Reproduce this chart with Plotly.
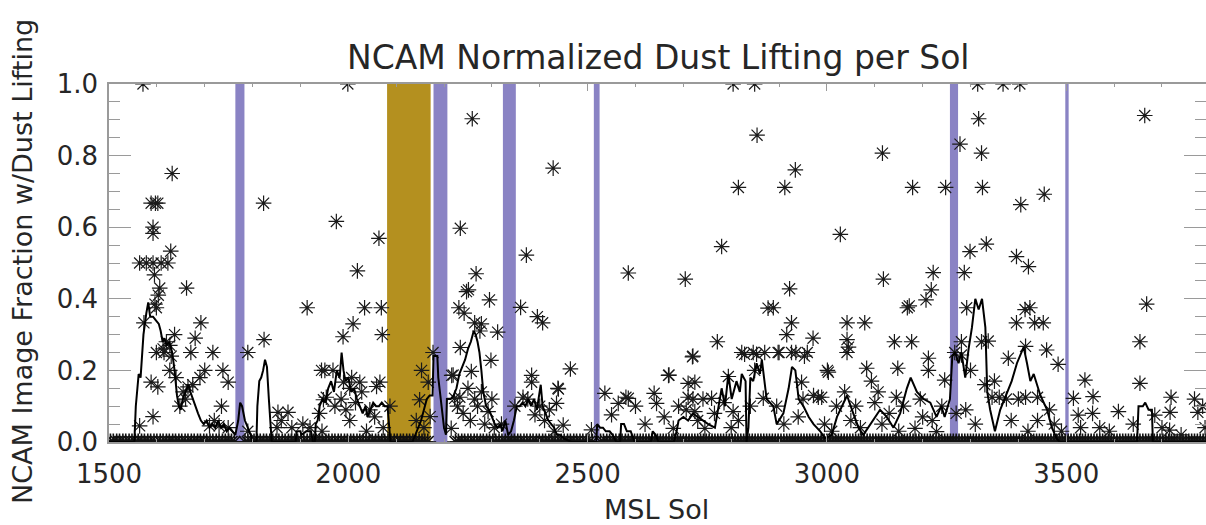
import plotly.graph_objects as go

# ---------------- data ----------------
# sols with imaging but no dust lifting (fraction = 0)
zero_sols_early = [1503, 1509, 1516, 1522, 1529, 1535, 1542, 1548, 1555, 1561, 1568, 1574, 1581, 1587, 1594,
                   1600, 1607, 1613, 1620, 1626, 1633, 1639, 1646, 1652, 1659, 1665, 1672, 1678, 1685, 1691,
                   1698, 1704, 1711, 1717, 1724, 1730, 1737, 1743, 1750, 1756, 1762, 1784, 1790, 1797, 1803,
                   1810, 1816, 1823, 1829, 1836, 1842, 1849, 1855, 1862, 1868, 1875, 1881, 1888, 1894, 1901,
                   1907, 1914, 1920, 1927, 1933, 1940, 1946, 1953, 1959, 1966, 1972, 1979, 1985, 1992, 1998,
                   2005, 2011, 2018, 2024, 2031, 2037, 2044, 2050, 2057, 2063, 2070, 2076, 2083, 2089, 2096,
                   2102, 2109, 2115, 2122, 2128, 2135, 2141, 2148, 2154, 2160, 2166, 2224, 2230, 2237, 2243,
                   2250, 2256, 2263, 2269, 2276, 2282, 2289, 2295, 2302, 2308, 2315, 2321, 2328, 2334, 2341,
                   2347, 2354, 2360, 2367, 2373, 2380, 2386, 2393, 2399, 2406, 2412, 2419, 2425, 2432, 2438,
                   2445, 2451, 2458, 2464, 2471, 2477, 2484, 2490, 2497, 2503, 2510, 2527, 2533, 2540, 2546,
                   2553, 2559, 2566, 2572, 2579, 2585, 2592, 2598]
zero_sols_late = [2604, 2610, 2616, 2622, 2628, 2634, 2640, 2646, 2652, 2658, 2664, 2670, 2676, 2682, 2688,
                  2694, 2700, 2706, 2712, 2718, 2724, 2730, 2736, 2742, 2748, 2754, 2760, 2766, 2772, 2778,
                  2784, 2790, 2796, 2802, 2808, 2814, 2820, 2826, 2832, 2838, 2844, 2850, 2856, 2862, 2868,
                  2874, 2880, 2886, 2892, 2898, 2904, 2910, 2916, 2922, 2928, 2934, 2940, 2946, 2952, 2958,
                  2964, 2970, 2976, 2982, 2988, 2994, 3000, 3006, 3012, 3018, 3024, 3030, 3036, 3042, 3048,
                  3054, 3060, 3066, 3072, 3078, 3084, 3090, 3096, 3102, 3108, 3114, 3120, 3126, 3132, 3138,
                  3144, 3150, 3156, 3162, 3168, 3174, 3180, 3186, 3192, 3198, 3204, 3210, 3216, 3222, 3228,
                  3234, 3240, 3246, 3252, 3258, 3264, 3270, 3276, 3282, 3288, 3294, 3300, 3306, 3312, 3318,
                  3324, 3330, 3336, 3342, 3348, 3354, 3360, 3366, 3372, 3378, 3384, 3390, 3396, 3402, 3408,
                  3414, 3420, 3426, 3432, 3438, 3444, 3450, 3456, 3462, 3468, 3474, 3480, 3486, 3492, 3498,
                  3504, 3510, 3516, 3522, 3528, 3534, 3540, 3546, 3552, 3558, 3564, 3570, 3576, 3582, 3588,
                  3594, 3600, 3606, 3612, 3618, 3624, 3630, 3636, 3642, 3648, 3654, 3660, 3666, 3672, 3678,
                  3684, 3690, 3696, 3702, 3708, 3714, 3720, 3726, 3732, 3738, 3744, 3750, 3756, 3762, 3768,
                  3774, 3780, 3786, 3792, 3798]

# per-sol fraction of images with dust lifting (non-zero values): (sol, fraction)
lift_obs = [
    (1571, 1.0), (1632, 0.75), (1588, 0.667), (1597, 0.667), (1602, 0.667), (1592, 0.6), (1592, 0.583),
    (1629, 0.533), (1564, 0.5), (1578, 0.5), (1592, 0.5), (1609, 0.5), (1623, 0.5), (1595, 0.467),
    (1606, 0.43), (1603, 0.41), (1662, 0.43), (1599, 0.375), (1596, 0.385), (1573, 0.333), (1692, 0.333),
    (1637, 0.3), (1680, 0.29), (1620, 0.28), (1627, 0.27), (1613, 0.26), (1599, 0.25), (1615, 0.25),
    (1630, 0.24), (1671, 0.25), (1717, 0.25), (1627, 0.2), (1700, 0.2), (1738, 0.2), (1588, 0.167),
    (1602, 0.154), (1749, 0.167), (1665, 0.154), (1648, 0.1), (1592, 0.071), (1564, 0.045), (1710, 0.045),
    (1730, 0.045), (1749, 0.04), (1790, 0.25), (1823, 0.667), (1824, 0.286), (1914, 0.375), (1853, 0.083),
    (1874, 0.083), (1851, 0.04), (1882, 0.04), (1951, 0.2), (1948, 0.118), (1640, 0.18), (1655, 0.14),
    (1675, 0.16), (1690, 0.18), (1660, 0.12), (1735, 0.1), (1720, 0.06), (1790, 0.03), (1860, 0.06),
    (1905, 0.05), (1920, 0.04), (1940, 0.08), (1945, 0.03), (1944, 0.2), (1968, 0.2), (1954, 0.125),
    (1990, 0.167), (2003, 0.06), (2007, 0.18), (2028, 0.14), (2059, 0.155), (1999, 1.0), (1975, 0.616),
    (2064, 0.569), (2019, 0.478), (2034, 0.375), (2069, 0.375), (2010, 0.33), (1989, 0.294), (2071, 0.3),
    (2024, 0.167), (2066, 0.167), (2003, 0.15), (1972, 0.1), (2087, 0.1), (2038, 0.03), (2073, 0.04),
    (2153, 0.2), (2149, 0.118), (2142, 0.06), (2177, 0.25), (2167, 0.167), (2171, 0.071), (2158, 0.04),
    (1985, 0.12), (1995, 0.09), (2015, 0.11), (2045, 0.09), (2055, 0.07),
    (2259, 0.903), (2234, 0.597), (2267, 0.47), (2251, 0.425), (2247, 0.42), (2295, 0.397), (2231, 0.375),
    (2242, 0.36), (2264, 0.333), (2278, 0.33), (2275, 0.31), (2312, 0.307), (2234, 0.264), (2298, 0.228),
    (2219, 0.187), (2257, 0.197), (2216, 0.186), (2222, 0.122), (2233, 0.125), (2250, 0.15), (2278, 0.14),
    (2264, 0.12), (2215, 0.038), (2292, 0.085), (2372, 0.522), (2360, 0.376), (2395, 0.35), (2406, 0.333),
    (2383, 0.186), (2383, 0.167), (2390, 0.076), (2439, 0.148), (2428, 0.765), (2464, 0.204), (2438, 0.15),
    (2435, 0.108), (2449, 0.047), (2228, 0.1), (2240, 0.08), (2255, 0.06), (2270, 0.1), (2285, 0.05),
    (2300, 0.12), (2305, 0.04), (2320, 0.05), (2348, 0.1), (2365, 0.125), (2375, 0.12), (2400, 0.1),
    (2410, 0.06), (2420, 0.09), (2430, 0.03),
    (2508, 0.034), (2585, 0.472), (2704, 0.455), (2780, 0.546), (2815, 0.711), (2854, 0.857), (2804, 1.0),
    (2849, 1.0), (2877, 0.374), (2771, 0.28), (2719, 0.238), (2670, 0.187), (2536, 0.136), (2585, 0.122),
    (2580, 0.125), (2639, 0.136), (2644, 0.108), (2710, 0.164), (2724, 0.167), (2720, 0.12), (2741, 0.12),
    (2710, 0.125), (2759, 0.122), (2794, 0.183), (2828, 0.245), (2853, 0.245), (2870, 0.25), (2849, 0.2),
    (2867, 0.122), (2550, 0.076), (2564, 0.108), (2706, 0.09), (2724, 0.085), (2804, 0.085), (2800, 0.04),
    (2679, 0.038), (2745, 0.038), (2600, 0.1), (2620, 0.05), (2660, 0.07), (2690, 0.1), (2730, 0.06),
    (2765, 0.08), (2785, 0.11), (2815, 0.06), (2840, 0.1),
    (2912, 0.711), (2934, 0.76), (3116, 0.807), (3179, 0.711), (3248, 0.711), (3028, 0.58), (2922, 0.428),
    (2888, 0.375), (3118, 0.455), (3222, 0.473), (3218, 0.425), (3207, 0.397), (3168, 0.375), (3172, 0.38),
    (2926, 0.333), (2916, 0.3), (3042, 0.333), (3042, 0.286), (3042, 0.25), (3045, 0.265), (3079, 0.333),
    (2971, 0.29), (3141, 0.28), (3177, 0.28), (2959, 0.25), (2898, 0.25), (2926, 0.25), (2953, 0.24),
    (2822, 0.25), (2846, 0.25), (2900, 0.25), (2935, 0.25), (3212, 0.234), (3212, 0.2), (3001, 0.2),
    (3083, 0.206), (3148, 0.206), (2947, 0.167), (3093, 0.17), (3246, 0.173), (2982, 0.125), (2989, 0.125),
    (3037, 0.14), (3107, 0.14), (3145, 0.125), (3184, 0.038), (3229, 0.029), (3003, 0.195), (2669, 0.186),
    (2720, 0.24), (2950, 0.12), (2972, 0.13), (3020, 0.1), (3060, 0.1), (3100, 0.11), (3130, 0.08),
    (3160, 0.1), (3195, 0.12), (3240, 0.1), (2895, 0.1), (2910, 0.05), (2940, 0.07), (2995, 0.05),
    (3010, 0.03), (3050, 0.06), (3070, 0.04), (3115, 0.05), (3150, 0.03), (3200, 0.07), (3220, 0.06),
    (3278, 0.832), (3317, 0.903), (3315, 1.0), (3323, 0.807), (3325, 0.711), (3299, 0.532), (3287, 0.473),
    (3292, 0.375), (3333, 0.553), (3368, 1.0), (3403, 1.0), (3454, 0.692), (3405, 0.663), (3396, 0.518),
    (3421, 0.49), (3414, 0.37), (3424, 0.375), (3396, 0.333), (3434, 0.333), (3452, 0.333), (3337, 0.282),
    (3281, 0.28), (3281, 0.243), (3323, 0.28), (3379, 0.234), (3415, 0.267), (3459, 0.257), (3483, 0.217),
    (3267, 0.25), (3300, 0.2), (3345, 0.125), (3360, 0.125), (3375, 0.12), (3400, 0.12), (3415, 0.125),
    (3440, 0.125), (3350, 0.17), (3330, 0.16), (3310, 0.05), (3290, 0.09), (3270, 0.08), (3385, 0.06),
    (3420, 0.03), (3440, 0.06), (3465, 0.09), (3475, 0.05), (3490, 0.03),
    (3539, 0.173), (3515, 0.122), (3556, 0.127), (3609, 0.085), (3664, 0.912), (3668, 0.385), (3654, 0.28),
    (3654, 0.164), (3719, 0.125), (3717, 0.083), (3716, 0.033), (3768, 0.12), (3775, 0.083), (3685, 0.075),
    (3525, 0.075), (3555, 0.08), (3570, 0.04), (3530, 0.04), (3590, 0.03), (3640, 0.05), (3700, 0.04),
    (3740, 0.02), (3790, 0.04), (3785, 0.1),
]

# running mean of the lifting fraction: (sol, fraction)
running_mean = [
    (1500, 0.0), (1553, 0.0), (1556, 0.1), (1562, 0.19), (1566, 0.18), (1572, 0.3), (1578, 0.36),
    (1582, 0.39), (1586, 0.35), (1592, 0.35), (1598, 0.34), (1604, 0.33), (1608, 0.31), (1612, 0.28),
    (1616, 0.29), (1620, 0.27), (1626, 0.28), (1632, 0.25), (1637, 0.2), (1642, 0.13), (1646, 0.1),
    (1650, 0.09), (1654, 0.12), (1660, 0.14), (1666, 0.16), (1670, 0.14), (1675, 0.12), (1680, 0.10),
    (1686, 0.08), (1692, 0.06), (1698, 0.05), (1704, 0.06), (1710, 0.04), (1716, 0.05), (1722, 0.04),
    (1728, 0.06), (1734, 0.04), (1740, 0.05), (1746, 0.03), (1752, 0.04), (1758, 0.03), (1764, 0.02),
    (1770, 0.06), (1774, 0.11), (1778, 0.1), (1784, 0.06), (1790, 0.04), (1796, 0.02), (1800, 0.0),
    (1808, 0.0), (1810, 0.1), (1814, 0.17), (1818, 0.18), (1822, 0.2), (1826, 0.23), (1830, 0.21),
    (1834, 0.12), (1838, 0.05), (1840, 0.0), (1890, 0.0), (1892, 0.03), (1900, 0.03), (1902, 0.02),
    (1912, 0.03), (1922, 0.03), (1926, 0.0), (1930, 0.0), (1932, 0.05), (1936, 0.06), (1940, 0.1),
    (1946, 0.12), (1952, 0.11), (1958, 0.15), (1964, 0.17), (1970, 0.14), (1976, 0.2), (1982, 0.18),
    (1986, 0.25), (1990, 0.2), (1994, 0.17), (2000, 0.18), (2006, 0.14), (2012, 0.15), (2018, 0.12),
    (2024, 0.1), (2030, 0.08), (2036, 0.1), (2040, 0.07), (2046, 0.09), (2052, 0.11), (2058, 0.1),
    (2064, 0.1), (2070, 0.11), (2076, 0.1), (2082, 0.1), (2086, 0.02), (2088, 0.0), (2134, 0.0),
    (2140, 0.02), (2146, 0.04), (2152, 0.06), (2158, 0.09), (2164, 0.12), (2170, 0.13), (2176, 0.13),
    (2178, 0.24), (2186, 0.24), (2188, 0.18), (2200, 0.04), (2204, 0.02), (2206, 0.12), (2214, 0.12),
    (2220, 0.13), (2226, 0.15), (2232, 0.19), (2238, 0.21), (2244, 0.23), (2250, 0.26), (2256, 0.28),
    (2262, 0.31), (2266, 0.3), (2270, 0.28), (2274, 0.25), (2278, 0.2), (2282, 0.14), (2288, 0.1),
    (2294, 0.09), (2300, 0.07), (2306, 0.05), (2312, 0.04), (2318, 0.05), (2322, 0.03), (2328, 0.06),
    (2334, 0.02), (2340, 0.03), (2346, 0.06), (2352, 0.1), (2358, 0.1), (2364, 0.11), (2370, 0.1),
    (2376, 0.12), (2382, 0.1), (2388, 0.12), (2394, 0.09), (2398, 0.13), (2402, 0.16), (2406, 0.1),
    (2412, 0.08), (2418, 0.06), (2424, 0.05), (2430, 0.04), (2436, 0.02), (2442, 0.02), (2450, 0.01),
    (2466, 0.0), (2518, 0.0), (2520, 0.05), (2526, 0.04), (2532, 0.04), (2538, 0.03), (2546, 0.03),
    (2552, 0.02), (2560, 0.0), (2568, 0.0), (2570, 0.05), (2576, 0.05), (2582, 0.03), (2590, 0.03),
    (2598, 0.0), (2632, 0.0), (2636, 0.03), (2642, 0.02), (2648, 0.0), (2680, 0.0), (2686, 0.03),
    (2690, 0.06), (2700, 0.07), (2710, 0.06), (2720, 0.08), (2730, 0.07), (2740, 0.06), (2752, 0.05),
    (2766, 0.04), (2780, 0.15), (2787, 0.1), (2794, 0.19), (2801, 0.12), (2811, 0.17), (2818, 0.14),
    (2822, 0.19), (2830, 0.17), (2832, 0.0), (2836, 0.04), (2840, 0.18), (2846, 0.17), (2853, 0.22),
    (2860, 0.19), (2864, 0.23), (2874, 0.12), (2888, 0.1), (2895, 0.05), (2909, 0.08), (2920, 0.15),
    (2927, 0.21), (2934, 0.2), (2941, 0.12), (2951, 0.1), (2962, 0.07), (2972, 0.05), (2986, 0.03),
    (2996, 0.01), (3010, 0.02), (3021, 0.07), (3031, 0.1), (3042, 0.13), (3055, 0.08), (3066, 0.04),
    (3076, 0.02), (3097, 0.06), (3111, 0.09), (3125, 0.07), (3139, 0.04), (3153, 0.08), (3167, 0.15),
    (3175, 0.18), (3188, 0.14), (3202, 0.12), (3216, 0.11), (3229, 0.07), (3239, 0.1), (3246, 0.07),
    (3257, 0.12), (3262, 0.24), (3268, 0.25), (3275, 0.22), (3281, 0.25), (3289, 0.18), (3296, 0.26),
    (3303, 0.32), (3310, 0.4), (3317, 0.37), (3324, 0.4), (3331, 0.32), (3335, 0.14), (3341, 0.09),
    (3351, 0.03), (3362, 0.09), (3376, 0.14), (3386, 0.17), (3397, 0.22), (3411, 0.265), (3418, 0.22),
    (3425, 0.17), (3432, 0.19), (3446, 0.13), (3460, 0.09), (3470, 0.04), (3480, 0.01), (3486, 0.0),
    (3648, 0.0), (3651, 0.1), (3660, 0.1), (3665, 0.11), (3672, 0.09), (3679, 0.09), (3681, 0.0),
    (3792, 0.0),
]

# dust-storm (gold) and conjunction/gap (purple) periods, in sols
gold_start, gold_end = [2081], [2172]
purple_start = [1764, 2178, 2323, 2513, 3257, 3498]
purple_end = [1783, 2207, 2350, 2525, 3274, 3505]

x_tick_vals = [1500, 2000, 2500, 3000, 3500]
y_tick_vals = [0.0, 0.2, 0.4, 0.6, 0.8, 1.0]
y_tick_text = ["0.0", "0.2", "0.4", "0.6", "0.8", "1.0"]

# ---------------- figure ----------------
FONT = "DejaVu Sans"
GOLD = "#b4901f"
PURPLE = "#8a83c4"
AXIS_GREY = "#9a9a9a"
TEXT = "#262626"

fig = go.Figure()

shapes = []
for s, e in zip(gold_start, gold_end):
    shapes.append(dict(type="rect", xref="x", yref="paper", x0=s, x1=e, y0=0, y1=1,
                       fillcolor=GOLD, line=dict(width=0), layer="below"))
for s, e in zip(purple_start, purple_end):
    shapes.append(dict(type="rect", xref="x", yref="paper", x0=s, x1=e, y0=0, y1=1,
                       fillcolor=PURPLE, line=dict(width=0), layer="below"))

marker = dict(symbol="asterisk-open", size=13, color="#1a1a1a", line=dict(width=1.2, color="#1a1a1a"))
zero_marker = dict(symbol="asterisk-open", size=14, color="#111111", line=dict(width=1.6, color="#111111"))

zero_sols = zero_sols_early + zero_sols_late
fig.add_trace(go.Scatter(x=zero_sols, y=[0.0] * len(zero_sols), mode="markers",
                         marker=zero_marker, cliponaxis=True, showlegend=False, hoverinfo="skip"))
fig.add_trace(go.Scatter(x=[p[0] for p in lift_obs], y=[p[1] for p in lift_obs], mode="markers",
                         marker=marker, cliponaxis=True, showlegend=False))
fig.add_trace(go.Scatter(x=[p[0] for p in running_mean], y=[p[1] for p in running_mean], mode="lines",
                         line=dict(color="black", width=2), cliponaxis=True, showlegend=False))

fig.update_layout(
    width=1206, height=525,
    margin=dict(l=109, r=0, t=84, b=83, autoexpand=False),
    paper_bgcolor="white", plot_bgcolor="white",
    font=dict(family=FONT, color=TEXT),
    shapes=shapes,
    xaxis=dict(range=[1500, 3792], tickvals=x_tick_vals, ticks="inside", ticklen=7, tickwidth=1,
               tickcolor=AXIS_GREY, showline=True, linecolor=AXIS_GREY, linewidth=1.5, mirror="ticks",
               showgrid=False, zeroline=False, tickfont=dict(size=26, family=FONT, color=TEXT),
               ticklabelstandoff=8,
               minor=dict(dtick=100, ticks="inside", ticklen=3.5, tickcolor=AXIS_GREY, showgrid=False)),
    yaxis=dict(range=[0, 1], tickvals=y_tick_vals, ticktext=y_tick_text, ticks="inside", ticklen=22,
               tickwidth=1, tickcolor=AXIS_GREY, showline=True, linecolor=AXIS_GREY, linewidth=1.5,
               mirror="ticks", showgrid=False, zeroline=False,
               tickfont=dict(size=26, family=FONT, color=TEXT), ticklabelstandoff=4,
               minor=dict(dtick=0.05, ticks="inside", ticklen=11, tickcolor=AXIS_GREY, showgrid=False)),
    annotations=[
        dict(text="NCAM Normalized Dust Lifting per Sol", xref="paper", yref="paper",
             x=(658 - 109) / 1097, y=(442 - 57) / 358, xanchor="center", yanchor="middle",
             showarrow=False, font=dict(size=33, family=FONT, color=TEXT)),
        dict(text="MSL Sol", xref="paper", yref="paper",
             x=(656 - 109) / 1097, y=(442 - 510) / 358, xanchor="center", yanchor="middle",
             showarrow=False, font=dict(size=27, family=FONT, color=TEXT)),
        dict(text="NCAM Image Fraction w/Dust Lifting", xref="paper", yref="paper",
             x=(22 - 109) / 1097, y=(442 - 262) / 358, xanchor="center", yanchor="middle",
             textangle=-90, showarrow=False, font=dict(size=27, family=FONT, color=TEXT)),
    ],
)

fig.write_html("out.html")
